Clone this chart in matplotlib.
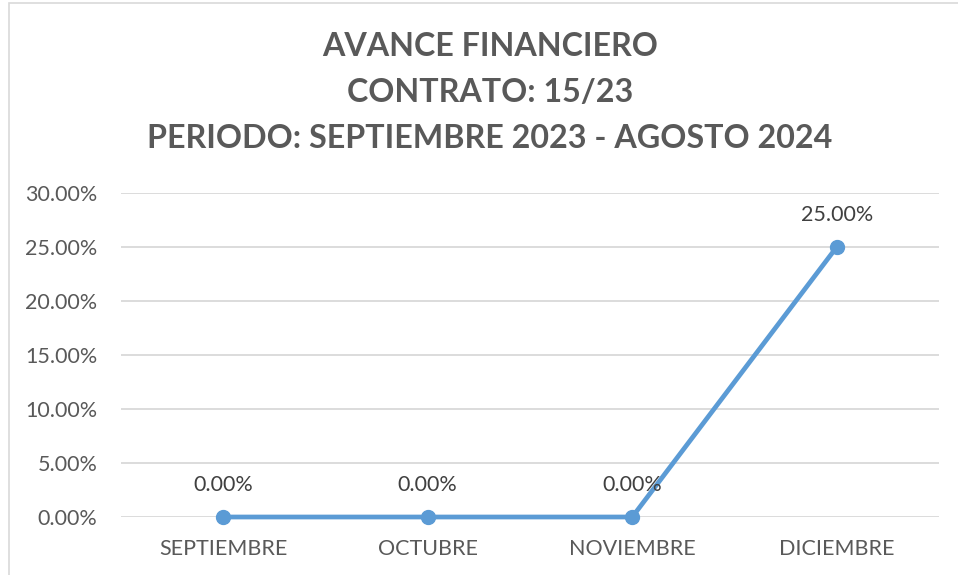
import matplotlib
matplotlib.use("Agg")
import matplotlib.pyplot as plt
from matplotlib.patches import Rectangle
from matplotlib.ticker import FuncFormatter

categories = ["SEPTIEMBRE", "OCTUBRE", "NOVIEMBRE", "DICIEMBRE"]
values = [0.0, 0.0, 0.0, 0.25]
title_lines = ["AVANCE FINANCIERO", "CONTRATO: 15/23", "PERIODO: SEPTIEMBRE 2023 - AGOSTO 2024"]
yticks = [0.0, 0.05, 0.10, 0.15, 0.20, 0.25, 0.30]

plt.rcParams['font.family'] = ['Lato', 'DejaVu Sans']
W, H = 958, 575
fig = plt.figure(figsize=(W / 100, H / 100), dpi=100)
fig.patch.set_facecolor('white')

# chart border
fig.add_artist(Rectangle((9 / W, -0.1), 2, 1.1 - 3 / H, transform=fig.transFigure,
                         fill=False, edgecolor='#D9D9D9', linewidth=1.2))

ax = fig.add_axes([121 / W, 1 - 517 / H, (939 - 121) / W, (517 - 193) / H])
x = list(range(len(categories)))
color = '#5B9BD5'
ax.plot(x, values, color=color, linewidth=3.4, marker='o', markersize=10, zorder=3,
        solid_capstyle='round', clip_on=False)
for xi, v in zip(x, values):
    ax.annotate(f"{v*100:.2f}%", (xi, v), xytext=(0, 32), textcoords='offset pixels',
                ha='center', va='center', fontsize=15.5, color='#404040')

ax.set_xlim(-0.5, len(categories) - 0.5)
ax.set_ylim(0, 0.30)
ax.set_yticks(yticks)
ax.yaxis.set_major_formatter(FuncFormatter(lambda v, p: f"{v*100:.2f}%"))
ax.set_xticks(x)
ax.set_xticklabels(categories)
ax.tick_params(axis='both', length=0, labelsize=15.5, labelcolor='#595959')
ax.tick_params(axis='x', pad=16)
ax.tick_params(axis='y', pad=17)
ax.grid(axis='y', color='#D9D9D9', linewidth=1.3)
ax.set_axisbelow(True)
for s in ax.spines.values():
    s.set_visible(False)
ax.set_facecolor('none')

for i, t in enumerate(title_lines):
    fig.text(490 / W, 1 - (47 + 45.5 * i) / H, t, ha='center', va='center',
             fontsize=23.2, fontweight='bold', color='#595959')

fig.savefig("out.png", dpi=100)
